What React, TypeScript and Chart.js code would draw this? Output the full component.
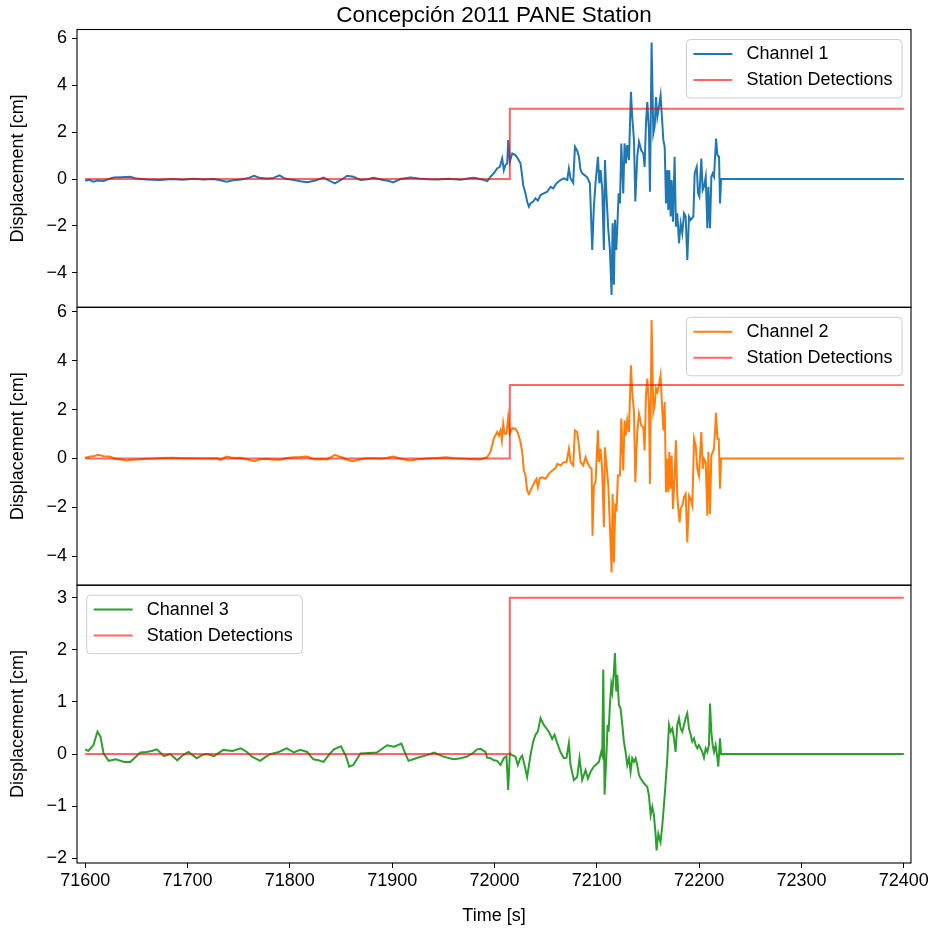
import React, { useEffect, useRef } from "react";
import { Chart, registerables } from "chart.js";

Chart.register(...registerables);

const TITLE = "Concepción 2011 PANE Station";
const FONT = '"Liberation Sans", Arial, Helvetica, sans-serif';

const xTicks = [71600, 71700, 71800, 71900, 72000, 72100, 72200, 72300, 72400];
const xMin = 71592;
const xMax = 72407;

const y1Ticks = [-4, -2, 0, 2, 4, 6];
const y2Ticks = [-4, -2, 0, 2, 4, 6];
const y3Ticks = [-2, -1, 0, 1, 2, 3];

const detectTime = [71600, 72015, 72015, 72400];
const detectDisp = [0, 0, 3, 3];

// [time s, displacement cm]
const ch1Samples: number[][] = [
  [71600, -0.07], [71604, -0.03], [71608, -0.11], [71612, -0.06], [71618, -0.08], [71623, 0.0], [71628, 0.07], [71635, 0.08], [71644, 0.1], [71650, 0.02],
  [71660, -0.02], [71673, -0.04], [71685, 0.0], [71695, -0.03], [71706, 0.01], [71716, -0.02], [71726, 0.0], [71733, -0.06], [71738, -0.11], [71745, -0.05],
  [71752, -0.02], [71760, 0.05], [71765, 0.14], [71770, 0.06], [71777, 0.02], [71783, 0.03], [71790, 0.16], [71795, 0.02], [71804, -0.04], [71810, -0.09],
  [71817, -0.14], [71825, -0.06], [71833, 0.06], [71839, -0.08], [71844, -0.18], [71850, -0.04], [71856, 0.14], [71862, 0.1], [71869, -0.04], [71876, -0.01],
  [71882, 0.06], [71890, -0.03], [71897, -0.08], [71901, -0.14], [71908, 0.0], [71918, 0.07], [71926, 0.02], [71934, -0.01], [71945, -0.02], [71955, 0.01],
  [71967, -0.03], [71975, 0.03], [71980, 0.06], [71988, -0.02], [71993, -0.09],
  [71996.1, 0.1], [71999.3, 0.24], [72002.6, 0.45], [72005.2, 0.52], [72007.5, 0.88], [72009.1, 0.38], [72010.7, 0.6], [72012.4, 0.67], [72013.4, 1.66], [72015.0, 0.74],
  [72017.3, 1.09], [72020.5, 1.02], [72022.8, 0.88], [72025.4, 0.67], [72027.1, 0.1], [72028.0, -0.26], [72030.3, -0.61], [72031.9, -0.96], [72033.6, -1.18], [72035.2, -1.04],
  [72037.8, -0.96], [72040.1, -0.82], [72042.4, -0.92], [72045.0, -0.68], [72048.2, -0.61], [72051.5, -0.54], [72054.8, -0.33], [72057.4, -0.4], [72060.6, -0.18], [72064.5, -0.04],
  [72067.8, 0.03], [72071.1, -0.04], [72072.7, 0.45], [72074.3, 0.03], [72076.9, -0.16], [72078.6, 1.38], [72080.8, 1.21], [72082.5, 0.95], [72084.1, 0.38], [72085.7, 0.24],
  [72088.0, 0.17], [72090.6, 0.07], [72093.2, -0.18], [72095.5, -3.02], [72097.1, -1.18], [72098.8, -0.11], [72101.1, 0.95], [72102.4, -0.18], [72103.7, 0.38], [72105.3, -0.47],
  [72106.9, -3.02], [72107.9, 0.81], [72109.5, -0.75], [72111.2, -2.17], [72112.8, -3.02], [72114.4, -4.94], [72115.4, -1.89], [72116.7, -4.51], [72117.7, -1.74], [72119.0, -3.02],
  [72120.0, -2.03], [72121.3, -0.61], [72122.6, -1.04], [72123.9, 1.52], [72125.8, -0.61], [72127.1, 1.52], [72128.4, 0.67], [72129.7, 1.45], [72131.4, 0.81], [72133.3, 3.72],
  [72134.6, 2.65], [72136.3, 1.66], [72137.6, -0.96], [72139.5, 0.95], [72141.2, 1.59], [72143.4, 1.23], [72145.4, 1.09], [72146.7, 0.52], [72148.0, 2.37], [72149.3, 3.29],
  [72150.9, 2.09], [72151.9, -0.54], [72153.5, 5.82], [72155.2, 1.94], [72156.5, 2.23], [72157.8, 3.5], [72159.1, 2.65], [72160.7, 3.08], [72162.3, 3.57], [72163.6, 2.65],
  [72165.0, 1.66], [72166.3, 1.38], [72167.6, -1.04], [72168.9, 0.38], [72169.8, -1.32], [72170.8, 0.38], [72172.1, -1.6], [72173.1, -0.04], [72174.4, -1.82], [72176.0, 0.95],
  [72177.3, -2.03], [72178.6, -1.46], [72180.3, -2.74], [72181.9, -1.89], [72183.5, -2.31], [72185.2, -1.46], [72186.8, -1.6], [72188.4, -3.45], [72190.1, -1.6], [72191.7, -1.74],
  [72194.3, -1.6], [72195.6, 0.24], [72197.6, 0.52], [72198.9, -0.61], [72200.2, -0.75], [72202.1, 0.88], [72203.4, -0.47], [72204.7, -0.33], [72206.4, 0.1], [72208.0, -2.1],
  [72209.0, -0.33], [72210.6, -2.1], [72211.9, 0.1], [72213.2, 0.24], [72214.5, 0.1], [72216.5, 1.73], [72217.8, 1.02], [72219.4, 0.95], [72220.4, -1.04], [72221.4, 0.0],
  [72400, 0.0],
];

const ch2Samples: number[][] = [
  [71600, 0.03], [71605, 0.08], [71609, 0.1], [71613, 0.15], [71618, 0.09], [71624, 0.08], [71629, -0.01], [71635, -0.04], [71641, -0.08], [71646, -0.05],
  [71651, -0.04], [71660, -0.01], [71667, 0.0], [71676, 0.02], [71686, 0.03], [71696, 0.01], [71706, 0.01], [71718, 0.0], [71729, 0.01], [71732, -0.07],
  [71738, 0.08], [71745, 0.02], [71752, 0.03], [71758, -0.03], [71765, -0.11], [71771, -0.03], [71778, -0.01], [71784, -0.05], [71791, -0.05], [71797, 0.02],
  [71804, 0.05], [71810, 0.06], [71817, 0.08], [71823, -0.03], [71830, -0.02], [71836, -0.04], [71840, 0.05], [71844, 0.15], [71848, 0.08], [71851, 0.05],
  [71856, -0.05], [71861, -0.11], [71865, -0.07], [71869, -0.03], [71875, 0.01], [71882, 0.01], [71890, 0.0], [71895, 0.03], [71901, 0.08], [71908, 0.0],
  [71913, -0.05], [71918, -0.08], [71925, -0.03], [71934, 0.0], [71943, 0.02], [71953, 0.05], [71960, 0.01], [71966, 0.0], [71975, -0.02], [71986, -0.04],
  [71992.8, 0.05],
  [71996.1, 0.26], [71999.3, 0.81], [72002.6, 1.08], [72004.2, 0.94], [72005.9, 1.15], [72007.2, 0.74], [72008.5, 1.42], [72009.8, 1.01], [72011.7, 1.01], [72013.4, 1.69],
  [72015.0, 1.01], [72017.3, 1.24], [72020.5, 1.22], [72022.8, 1.05], [72025.4, 0.67], [72027.1, 0.26], [72028.7, -0.49], [72030.3, -0.7], [72031.9, -1.31], [72033.6, -1.45],
  [72035.2, -1.31], [72036.8, -1.17], [72039.1, -0.97], [72041.1, -0.83], [72042.4, -1.17], [72044.3, -0.81], [72046.6, -0.77], [72049.9, -0.83], [72053.1, -0.63], [72056.4, -0.49],
  [72059.6, -0.4], [72061.3, -0.22], [72064.5, -0.29], [72067.8, -0.15], [72070.4, -0.15], [72072.7, 0.4], [72074.3, -0.15], [72076.9, -0.29], [72078.6, 1.15], [72080.8, 1.08],
  [72082.5, 0.53], [72084.1, -0.15], [72086.7, -0.29], [72089.0, 0.05], [72090.6, -0.15], [72093.2, -0.36], [72094.9, -0.42], [72095.8, -3.16], [72097.1, -1.11], [72098.8, -0.97],
  [72099.7, -0.01], [72101.1, 1.15], [72102.0, -0.15], [72103.7, 0.4], [72105.3, -0.56], [72106.9, -2.81], [72107.9, 0.46], [72109.5, -0.29], [72111.2, -1.11], [72112.8, -2.81],
  [72114.4, -4.66], [72115.4, -1.45], [72116.7, -4.25], [72118.0, -1.93], [72119.3, -2.06], [72120.6, -0.7], [72122.6, -0.7], [72123.9, 1.63], [72125.8, -0.49], [72127.1, 1.56],
  [72128.4, 0.94], [72129.7, 1.56], [72131.4, 1.08], [72133.3, 3.81], [72134.6, 2.72], [72136.3, 1.9], [72137.6, -0.97], [72139.5, 1.08], [72141.2, 1.83], [72143.4, 1.35],
  [72145.4, 1.28], [72146.7, 0.33], [72148.0, 2.58], [72149.3, 3.27], [72150.9, 2.17], [72151.9, -1.04], [72153.5, 5.66], [72155.2, 1.9], [72156.5, 2.17], [72157.8, 2.86],
  [72159.1, 2.72], [72160.7, 2.99], [72162.3, 3.4], [72163.6, 2.24], [72165.0, 1.15], [72166.3, 2.31], [72167.6, -1.38], [72168.9, -0.01], [72169.8, -1.38], [72170.8, 0.26],
  [72172.1, -1.24], [72173.1, 0.12], [72174.4, -2.06], [72176.0, -0.7], [72177.3, 0.74], [72178.6, -1.52], [72179.9, -2.2], [72180.9, -2.61], [72181.9, -2.06], [72183.5, -1.93],
  [72185.2, -1.58], [72186.8, -1.45], [72188.4, -3.43], [72190.1, -1.52], [72191.7, -1.65], [72193.3, -1.93], [72195.0, 0.81], [72196.6, 0.53], [72198.2, -0.42], [72199.8, -0.7],
  [72202.1, 1.08], [72203.4, -0.42], [72204.7, -0.01], [72206.4, -0.15], [72208.0, -2.34], [72209.0, 0.26], [72210.6, -2.27], [72211.9, 0.12], [72213.2, 0.26], [72214.5, 0.4],
  [72216.5, 1.87], [72217.8, 0.81], [72219.1, 0.81], [72220.4, -1.24], [72221.4, 0.0], [72400, 0.0],
];

const ch3Samples: number[][] = [
  [71600, 0.09], [71603, 0.06], [71608, 0.17], [71612, 0.43], [71615, 0.33], [71618, 0.01], [71623, -0.13], [71630, -0.1], [71638, -0.15], [71644, -0.15],
  [71649, -0.06], [71654, 0.03], [71660, 0.04], [71665, 0.06], [71670, 0.09], [71677, -0.04], [71683, 0.0], [71690, -0.12], [71695, -0.03], [71701, 0.04],
  [71709, -0.08], [71714, -0.02], [71719, 0.0], [71726, -0.04], [71735, 0.08], [71744, 0.06], [71752, 0.11], [71758, 0.04], [71763, -0.05], [71771, -0.13],
  [71776, -0.06], [71781, 0.0], [71789, 0.04], [71797, 0.11], [71804, 0.03], [71810, 0.08], [71817, 0.04], [71823, -0.1], [71828, -0.12], [71833, -0.15],
  [71838, -0.02], [71843, 0.09], [71850, 0.15], [71855, -0.05], [71858, -0.24], [71862, -0.21], [71866, -0.08], [71869, 0.01], [71877, 0.02], [71885, 0.03],
  [71895, 0.17], [71902, 0.14], [71909, 0.2], [71912, 0.05], [71916, -0.13], [71922, -0.09], [71928, -0.05], [71934, -0.02], [71941, 0.03], [71950, -0.05],
  [71960, -0.1], [71967, -0.08], [71973, -0.05], [71979, 0.02], [71983, 0.09], [71986.3, 0.1],
  [71991.2, 0.04], [71992.8, -0.07], [71996.1, -0.08], [71999.3, -0.12], [72002.6, -0.13], [72005.9, -0.21], [72009.1, -0.08], [72011.7, -0.04], [72013.4, -0.69], [72015.0, 0.01],
  [72017.3, -0.02], [72020.5, -0.05], [72022.8, -0.21], [72025.4, -0.07], [72027.1, -0.03], [72029.3, -0.21], [72031.9, -0.44], [72035.2, -0.02], [72037.8, 0.24], [72040.1, 0.37],
  [72042.4, 0.43], [72045.0, 0.69], [72048.2, 0.56], [72050.8, 0.49], [72053.1, 0.43], [72056.4, 0.29], [72058.7, 0.37], [72061.3, 0.21], [72064.5, 0.04], [72067.8, -0.08],
  [72070.4, -0.07], [72072.7, 0.21], [72074.3, -0.21], [72077.6, -0.5], [72080.8, -0.44], [72083.1, -0.08], [72085.7, -0.5], [72089.0, -0.31], [72091.3, -0.47], [72093.9, -0.34],
  [72097.1, -0.24], [72102.0, -0.15], [72104.3, 0.04], [72105.3, -0.02], [72106.3, 1.62], [72107.6, -0.78], [72109.5, 0.04], [72110.5, 0.56], [72111.5, 0.43], [72112.8, 0.94],
  [72114.1, 1.33], [72115.1, 1.2], [72116.7, 1.58], [72117.7, 1.94], [72119.0, 1.2], [72120.0, 1.52], [72121.6, 0.94], [72123.2, 0.88], [72124.9, 0.56], [72126.5, 0.24],
  [72128.1, 0.04], [72129.7, -0.21], [72131.4, -0.08], [72133.0, -0.34], [72134.6, -0.08], [72136.3, -0.15], [72137.9, -0.08], [72139.5, -0.21], [72141.2, -0.4], [72142.8, -0.47],
  [72146.0, -0.56], [72149.3, -0.63], [72150.9, -0.79], [72152.6, -1.17], [72154.2, -1.01], [72155.8, -1.17], [72157.5, -1.56], [72158.4, -1.85], [72160.1, -1.53], [72162.3, -1.69],
  [72164.0, -1.37], [72165.6, -0.98], [72167.2, -0.56], [72168.9, -0.08], [72170.5, 0.56], [72172.1, 0.43], [72173.8, 0.49], [72175.4, 0.3], [72177.0, 0.04], [72178.6, 0.56],
  [72180.3, 0.69], [72181.9, 0.49], [72183.5, 0.43], [72185.2, 0.56], [72186.8, 0.69], [72188.4, 0.78], [72190.1, 0.49], [72191.7, 0.37], [72193.3, 0.24], [72195.0, 0.3],
  [72196.6, 0.17], [72198.2, 0.11], [72199.8, 0.17], [72201.5, 0.11], [72203.1, 0.04], [72204.7, -0.07], [72206.4, 0.11], [72208.0, 0.04], [72209.6, 0.17], [72210.6, 0.97],
  [72211.9, 0.43], [72213.2, 0.17], [72214.5, 0.04], [72216.1, 0.17], [72217.8, -0.08], [72218.7, -0.24], [72220.4, 0.3], [72221.4, 0.0], [72400, 0.0],
];

type Panel = {
  samples: number[][];
  label: string;
  color: string;
  yMin: number;
  yMax: number;
  yTicks: number[];
  top: number;
  bottom: number;
  legendSide: "left" | "right";
  first: boolean;
  last: boolean;
};

const W = 931;
const H = 931;
const AXIS_LEFT = 77;
const AXIS_RIGHT = 911;

const panels: Panel[] = [
  { samples: ch1Samples, label: "Channel 1", color: "#1f77b4", yMin: -5.47, yMax: 6.38, yTicks: y1Ticks, top: 29.5, bottom: 307.3, legendSide: "right", first: true, last: false },
  { samples: ch2Samples, label: "Channel 2", color: "#ff7f0e", yMin: -5.18, yMax: 6.18, yTicks: y2Ticks, top: 307.3, bottom: 585.2, legendSide: "right", first: false, last: false },
  { samples: ch3Samples, label: "Channel 3", color: "#2ca02c", yMin: -2.09, yMax: 3.24, yTicks: y3Ticks, top: 585.2, bottom: 863, legendSide: "left", first: false, last: true },
];

const DETECT_COLOR = "rgba(255,0,0,0.6)";

const fmt = (v: number) => (v < 0 ? "\u2212" + Math.abs(v) : String(v));

const framePlugin = {
  id: "frame",
  afterDatasetsDraw(chart: any) {
    const { ctx, chartArea: a } = chart;
    ctx.save();
    ctx.strokeStyle = "#000";
    ctx.lineWidth = 1.1;
    ctx.strokeRect(a.left, a.top, a.right - a.left, a.bottom - a.top);
    ctx.restore();
  },
};

const figTitlePlugin = {
  id: "figTitle",
  afterDraw(chart: any, _args: any, opts: any) {
    if (!opts.text) return;
    const { ctx, chartArea: a } = chart;
    ctx.save();
    ctx.font = `22.5px ${FONT}`;
    ctx.fillStyle = "#000";
    ctx.textAlign = "center";
    ctx.textBaseline = "alphabetic";
    ctx.fillText(opts.text, (a.left + a.right) / 2, a.top - 8);
    ctx.restore();
  },
};

const legendPlugin = {
  id: "panelLegend",
  afterDraw(chart: any, _args: any, opts: any) {
    const { ctx, chartArea: a } = chart;
    const items = opts.items as { label: string; color: string }[];
    ctx.save();
    ctx.font = `18px ${FONT}`;
    const tw = Math.max(...items.map((i) => ctx.measureText(i.label).width));
    const w = 7 + 39 + 14 + tw + 9.5;
    const h = 58.5;
    const x0 = opts.side === "right" ? a.right - 9 - w : a.left + 9.7;
    const y0 = a.top + 10;
    ctx.beginPath();
    if ((ctx as any).roundRect) (ctx as any).roundRect(x0, y0, w, h, 4);
    else ctx.rect(x0, y0, w, h);
    ctx.fillStyle = "rgba(255,255,255,0.8)";
    ctx.fill();
    ctx.strokeStyle = "#cccccc";
    ctx.lineWidth = 1;
    ctx.stroke();
    items.forEach((it, i) => {
      const cy = y0 + 14.4 + i * 26;
      ctx.beginPath();
      ctx.moveTo(x0 + 7, cy);
      ctx.lineTo(x0 + 46, cy);
      ctx.strokeStyle = it.color;
      ctx.lineWidth = 2;
      ctx.stroke();
      ctx.fillStyle = "#000";
      ctx.textBaseline = "middle";
      ctx.textAlign = "left";
      ctx.fillText(it.label, x0 + 60, cy);
    });
    ctx.restore();
  },
};

function makeConfig(p: Panel): any {
  const font = { family: FONT, size: 18 };
  const chPoints = p.samples.map((s) => ({ x: s[0], y: s[1] }));
  const detPoints = detectTime.map((t, i) => ({ x: t, y: detectDisp[i] }));
  return {
    type: "line",
    data: {
      datasets: [
        { label: p.label, data: chPoints, borderColor: p.color, backgroundColor: p.color, borderWidth: 2, pointRadius: 0, fill: false, tension: 0, order: 1 },
        { label: "Station Detections", data: detPoints, borderColor: DETECT_COLOR, backgroundColor: DETECT_COLOR, borderWidth: 2, pointRadius: 0, fill: false, tension: 0, order: 0 },
      ],
    },
    options: {
      responsive: false,
      animation: false,
      events: [],
      layout: {
        padding: {
          left: 0,
          right: W - AXIS_RIGHT,
          top: p.top,
          bottom: p.last ? 0 : H - p.bottom,
        },
      },
      plugins: {
        legend: { display: false },
        tooltip: { enabled: false },
        title: { display: false },
        figTitle: { text: p.first ? TITLE : "" },
        panelLegend: {
          side: p.legendSide,
          items: [
            { label: p.label, color: p.color },
            { label: "Station Detections", color: DETECT_COLOR },
          ],
        },
      },
      scales: {
        x: {
          type: "linear",
          min: xMin,
          max: xMax,
          display: p.last,
          afterFit: (s: any) => {
            if (p.last) s.height = H - p.bottom;
          },
          afterBuildTicks: (ax: any) => {
            ax.ticks = xTicks.map((v) => ({ value: v }));
          },
          ticks: {
            font,
            color: "#000",
            padding: 2,
            maxRotation: 0,
            autoSkip: false,
            callback: (v: any) => String(v),
          },
          grid: { display: true, drawOnChartArea: false, drawTicks: true, tickLength: 5, color: "#000", lineWidth: 1 },
          border: { display: false },
          title: { display: true, text: "Time [s]", color: "#000", font, padding: { top: 0, bottom: 4 } },
        },
        y: {
          type: "linear",
          min: p.yMin,
          max: p.yMax,
          afterFit: (s: any) => {
            s.width = AXIS_LEFT;
          },
          afterBuildTicks: (ax: any) => {
            ax.ticks = p.yTicks.map((v) => ({ value: v }));
          },
          ticks: { font, color: "#000", padding: 5, callback: (v: any) => fmt(Number(v)) },
          grid: { display: true, drawOnChartArea: false, drawTicks: true, tickLength: 5, color: "#000", lineWidth: 1 },
          border: { display: false },
          title: { display: true, text: "Displacement [cm]", color: "#000", font, padding: { top: 7.7, bottom: 0 } },
        },
      },
    },
    plugins: [framePlugin, legendPlugin, figTitlePlugin],
  };
}

export default function App() {
  const r0 = useRef<HTMLCanvasElement | null>(null);
  const r1 = useRef<HTMLCanvasElement | null>(null);
  const r2 = useRef<HTMLCanvasElement | null>(null);
  const refs = [r0, r1, r2];

  useEffect(() => {
    const charts = panels.map((p, i) => new Chart(refs[i].current as HTMLCanvasElement, makeConfig(p)));
    return () => charts.forEach((c) => c.destroy());
  }, []);

  return (
    <div style={{ position: "absolute", left: 0, top: 0, width: W, height: H, background: "#fff", overflow: "hidden" }}>
      {panels.map((p, i) => (
        <canvas
          key={p.label}
          ref={refs[i]}
          width={W}
          height={H}
          style={{ position: "absolute", left: 0, top: 0, width: W, height: H }}
        />
      ))}
    </div>
  );
}
